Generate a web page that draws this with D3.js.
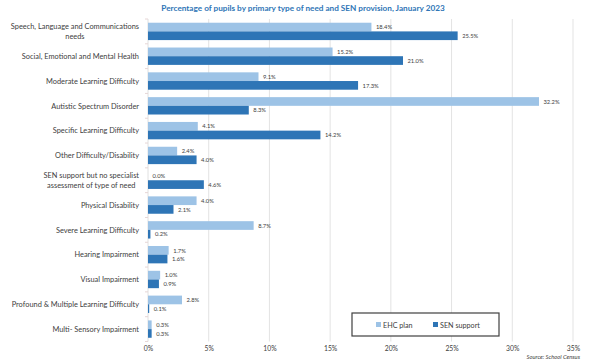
<!DOCTYPE html>
<html><head><meta charset="utf-8">
<script src="https://cdn.jsdelivr.net/npm/d3@7"></script>
<style>body{margin:0;background:#fff;} svg{display:block;font-family:Lato, "Open Sans", sans-serif;}</style>
</head><body>
<svg id="c" width="611" height="364"></svg>
<script>
const categories = [
  ["Speech, Language and Communications","needs"],
  ["Social, Emotional and Mental Health"],
  ["Moderate Learning Difficulty"],
  ["Autistic Spectrum Disorder"],
  ["Specific Learning Difficulty"],
  ["Other Difficulty/Disability"],
  ["SEN support but no specialist","assessment of type of need"],
  ["Physical Disability"],
  ["Severe Learning Difficulty"],
  ["Hearing Impairment"],
  ["Visual Impairment"],
  ["Profound & Multiple Learning Difficulty"],
  ["Multi- Sensory Impairment"]
];
const ehcPlan = [18.4,15.2,9.1,32.2,4.1,2.4,0.0,4.0,8.7,1.7,1.0,2.8,0.3];
const senSupport = [25.5,21.0,17.3,8.3,14.2,4.0,4.6,2.1,0.2,1.6,0.9,0.1,0.3];
const seriesNames = ["EHC plan","SEN support"];
const xTicks = [0,5,10,15,20,25,30,35];
const title = "Percentage of pupils by primary type of need and SEN provision, January 2023";
const source = "Source: School Census";
const colors = ["#9dc3e6","#2e75b6"];

const svg = d3.select("#c");
const pLeft = 148, pRight = 573, pTop = 19, pBottom = 341.5;
const x = d3.scaleLinear().domain([0,35]).range([pLeft,pRight]);
const y = d3.scaleBand().domain(d3.range(categories.length)).range([pTop,pBottom]).paddingInner(0.3).paddingOuter(0.15);
const sub = d3.scaleBand().domain([0,1]).range([0,y.bandwidth()]);

svg.append("text").attr("x",303).attr("y",11).attr("text-anchor","middle")
  .attr("font-size",8.2).attr("font-weight","bold").attr("fill","#2e75b6").text(title);

// grid
svg.append("g").selectAll("line").data(xTicks.slice(1)).join("line")
  .attr("x1",d=>x(d)).attr("x2",d=>x(d)).attr("y1",pTop).attr("y2",pBottom)
  .attr("stroke","#e3e3e3").attr("stroke-width",1);
svg.append("line").attr("x1",x(0)).attr("x2",x(0)).attr("y1",pTop).attr("y2",pBottom)
  .attr("stroke","#e0e0e0");
// category boundary ticks
const step = (pBottom-pTop)/categories.length;
svg.append("g").selectAll("line").data(d3.range(categories.length+1)).join("line")
  .attr("x1",x(0)-3).attr("x2",x(0)).attr("y1",d=>pTop+d*step).attr("y2",d=>pTop+d*step)
  .attr("stroke","#e6d6d6");

// axis
const ax = svg.append("g").attr("transform",`translate(0,${pBottom})`)
  .call(d3.axisBottom(x).tickValues(xTicks).tickFormat(d=>d+"%").tickSize(0).tickPadding(5));
ax.select(".domain").remove();
ax.selectAll("text").attr("font-size",6.8).attr("fill","#404040").attr("font-family","Lato, sans-serif");

// bars
const data = [ehcPlan, senSupport];
data.forEach((vals,si)=>{
  const g = svg.append("g");
  g.selectAll("rect").data(vals).join("rect")
    .attr("x",x(0)).attr("y",(d,i)=>y(i)+sub(si)).attr("height",sub.bandwidth())
    .attr("width",d=>Math.max(0,x(d)-x(0))).attr("fill",colors[si]);
  g.selectAll("text").data(vals).join("text")
    .attr("x",d=>x(d)+4.5).attr("y",(d,i)=>y(i)+sub(si)+sub.bandwidth()/2+2.2)
    .attr("font-size",5.8).attr("fill","#404040").text(d=>d.toFixed(1)+"%");
});

// category labels
categories.forEach((lines,i)=>{
  const cy = y(i)+y.bandwidth()/2;
  const lh = 10.2;
  const g = svg.append("g");
  const ts = lines.map((l,k)=>g.append("text").attr("font-size",7.4).attr("fill","#404040")
      .attr("y",cy+(k-(lines.length-1)/2)*lh+2.8).text(l));
  const widths = ts.map(t=>t.node().getComputedTextLength());
  const maxW = d3.max(widths);
  const cx = 139 - maxW/2;
  ts.forEach(t=>t.attr("x",cx).attr("text-anchor","middle"));
});

// legend
svg.append("rect").attr("x",352).attr("y",313).attr("width",147).attr("height",23)
  .attr("fill","#fff").attr("stroke","#404040").attr("stroke-width",1.2);
const lg = [[376,seriesNames[0]],[433,seriesNames[1]]];
lg.forEach(([lx,name],i)=>{
  svg.append("rect").attr("x",lx).attr("y",322).attr("width",5).attr("height",5).attr("fill",colors[i]);
  svg.append("text").attr("x",lx+7).attr("y",327.5).attr("font-size",7.2).attr("fill","#404040").text(name);
});

svg.append("text").attr("x",580).attr("y",359).attr("text-anchor","end").attr("font-size",5.8)
  .attr("font-style","italic").attr("fill","#404040").text(source);
</script>
</body></html>
